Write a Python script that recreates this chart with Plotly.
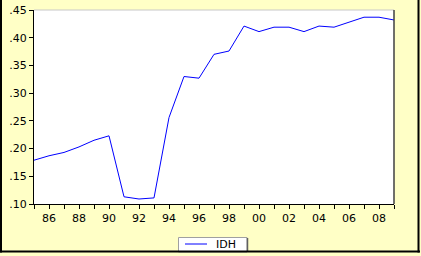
import plotly.graph_objects as go

years = list(range(1985, 2010))
idh = [0.179, 0.187, 0.193, 0.203, 0.215, 0.223, 0.113, 0.109, 0.111,
       0.256, 0.330, 0.327, 0.370, 0.376, 0.421, 0.411, 0.419, 0.419,
       0.411, 0.421, 0.419, 0.428, 0.437, 0.437, 0.432]
y_ticks = [0.10, 0.15, 0.20, 0.25, 0.30, 0.35, 0.40, 0.45]
y_ticktext = [".10", ".15", ".20", ".25", ".30", ".35", ".40", ".45"]
x_ticktext = [("%02d" % (y % 100)) if y % 2 == 0 else "" for y in years]
series_name = "IDH"

BG = "#FFFFC6"
FONT = "DejaVu Sans"

fig = go.Figure()
fig.add_trace(go.Scatter(x=years, y=idh, mode="lines", name=series_name,
                         line=dict(color="#0000FF", width=1), showlegend=False))

L, R, T, B = 34, 27, 10, 52
W, H = 421, 256
pw, ph = W - L - R, H - T - B

def px(x):
    return (x - L) / pw

def py(y):
    return (H - B - y) / ph

shapes = [
    # plot frame top (light) and right (dark)
    dict(type="line", xref="paper", yref="paper", x0=0, x1=1, y0=1, y1=1,
         line=dict(color="#C8C8C8", width=1)),
    dict(type="line", xref="paper", yref="paper", x0=1, x1=1, y0=0, y1=1,
         line=dict(color="#404040", width=1.5)),
    # legend box
    dict(type="rect", xref="paper", yref="paper", x0=px(178.5), x1=px(247),
         y0=py(252), y1=py(237.5), fillcolor="white",
         line=dict(color="#A0A0A0", width=1)),
    dict(type="line", xref="paper", yref="paper", x0=px(247.5), x1=px(247.5),
         y0=py(252), y1=py(238), line=dict(color="#606060", width=1.5)),
    dict(type="line", xref="paper", yref="paper", x0=px(185), x1=px(207),
         y0=py(244), y1=py(244), line=dict(color="#0000FF", width=1)),
    # outer frame
    dict(type="line", xref="paper", yref="paper", x0=px(0), x1=px(420),
         y0=py(251.5), y1=py(251.5), line=dict(color="black", width=2)),
    dict(type="line", xref="paper", yref="paper", x0=px(418.5), x1=px(418.5),
         y0=py(252.5), y1=py(0), line=dict(color="black", width=2)),
    dict(type="line", xref="paper", yref="paper", x0=px(1), x1=px(1),
         y0=py(252.5), y1=py(0), line=dict(color="black", width=2)),
]

fig.update_layout(
    width=W, height=H,
    margin=dict(l=L, r=R, t=T, b=B, autoexpand=False),
    paper_bgcolor=BG, plot_bgcolor="white",
    showlegend=False,
    xaxis=dict(range=[1985, 2009], tickmode="array", tickvals=years, ticktext=x_ticktext,
               ticks="outside", ticklen=4, tickcolor="black", showgrid=False, zeroline=False,
               showline=True, linecolor="black", linewidth=1, automargin=False,
               tickfont=dict(family=FONT, size=11, color="black")),
    yaxis=dict(range=[0.10, 0.45], tickmode="array", tickvals=y_ticks, ticktext=y_ticktext,
               ticks="outside", ticklen=4, tickcolor="black", showgrid=False, zeroline=False,
               showline=True, linecolor="black", linewidth=1, automargin=False,
               tickfont=dict(family=FONT, size=11, color="black")),
    shapes=shapes,
    annotations=[dict(xref="paper", yref="paper", x=px(214), y=py(244),
                      xanchor="left", yanchor="middle", showarrow=False,
                      text=series_name, font=dict(family=FONT, size=11, color="black"))],
)

fig.write_html("out.html")
